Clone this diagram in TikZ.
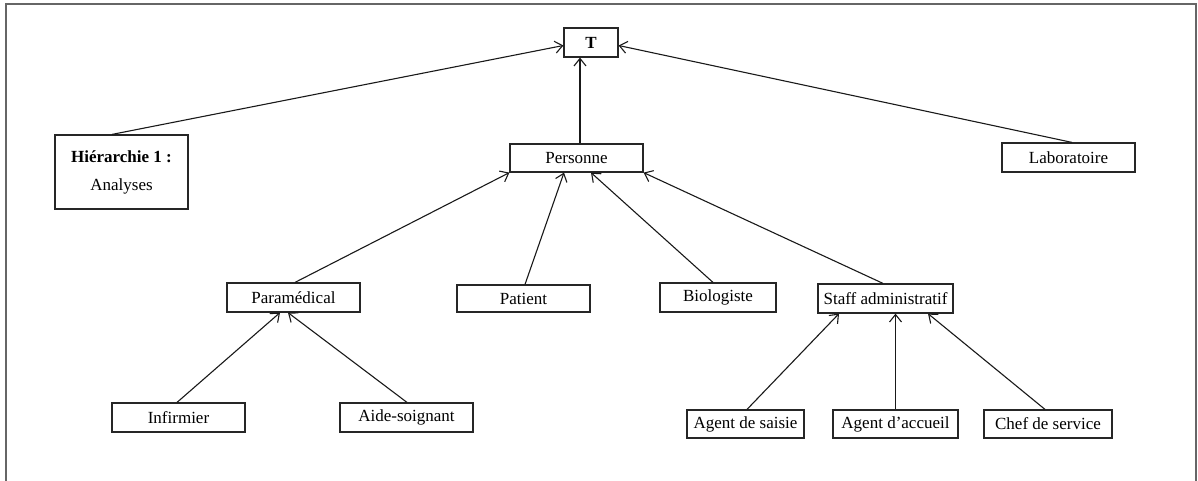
\documentclass[tikz,border=0pt]{standalone}
\usepackage{fontspec}
\setmainfont{Liberation Serif}
\usetikzlibrary{arrows.meta}
\begin{document}
\begin{tikzpicture}[x=1pt,y=-1pt,
  box/.style={draw=black!85,line width=1.2pt,inner sep=0pt,font=\fontsize{17}{19}\selectfont,
    minimum width=#1,minimum height=29pt},
  box/.default=133pt,
  link/.style={draw=black!90,line width=1.1pt,-{Straight Barb[length=7.5pt,width=12pt,line width=1.1pt]}}]
\useasboundingbox (0,0) rectangle (1198,480);
\draw[black!60,line width=1.6pt] (6,482) -- (6,4) -- (1196,4) -- (1196,482);
\node[box=54pt] (T) at (591,42.5) {\textbf{T}};
\node[box, minimum height=74pt, align=center] (H) at (121.5,172)
  {\textbf{Hiérarchie 1 :}\\[9pt]Analyses};
\node[box] (lab) at (1068.5,157.5) {Laboratoire};
\node[box, minimum height=28pt] (pers) at (576.5,158) {Personne};
\node[box] (para) at (293.5,297.5) {Paramédical};
\node[box, minimum height=27pt] (pat) at (523.5,298.5) {Patient};
\node[box=116pt] (bio) at (718,297.5) {Biologiste};
\node[box=135pt] (staff) at (885.5,298.5) {Staff administratif};
\node[box] (inf) at (178.5,417.5) {Infirmier};
\node[box] (aide) at (406.5,417.5) {Aide-soignant};
\node[box=117pt, minimum height=28pt] (ags) at (745.5,424) {Agent de saisie};
\node[box=125pt, minimum height=28pt] (aga) at (895.5,424) {Agent d’accueil};
\node[box=128pt, minimum height=28pt] (chef) at (1048,424) {Chef de service};
% connectors
\draw[link] ([xshift=-9.5pt]H.north) -- ([yshift=-3pt]T.west);
\draw[link] ([xshift=3.5pt]lab.north) -- ([yshift=-3pt]T.east);
\draw[link] ([xshift=3.5pt]pers.north) -- ([xshift=-11pt]T.south);
\draw[link] ([xshift=1.5pt]para.north) -- (pers.south west);
\draw[link] ([xshift=1.5pt]pat.north) -- ([xshift=-12.5pt]pers.south);
\draw[link] ([xshift=-5pt]bio.north) -- ([xshift=14.5pt]pers.south);
\draw[link] ([xshift=-2.5pt]staff.north) -- (pers.south east);
\draw[link] ([xshift=-1.5pt]inf.north) -- ([xshift=-13.5pt]para.south);
\draw[link] ([xshift=0.5pt]aide.north) -- ([xshift=-5.5pt]para.south);
\draw[link] ([xshift=1.5pt]ags.north) -- ([xshift=-46.5pt]staff.south);
\draw[link] ([xshift=0pt]aga.north) -- ([xshift=10pt]staff.south);
\draw[link] ([xshift=-3pt]chef.north) -- ([xshift=42.5pt]staff.south);
\end{tikzpicture}
\end{document}
